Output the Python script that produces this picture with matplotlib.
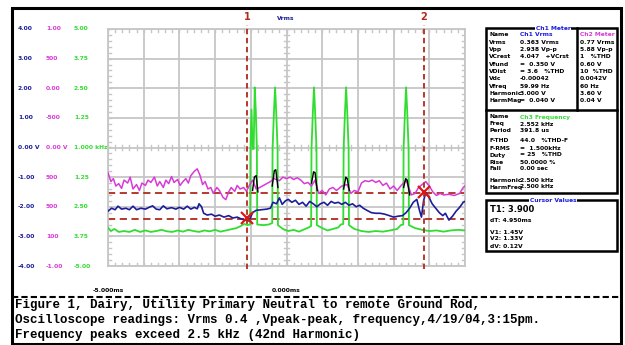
import numpy as np
import matplotlib
matplotlib.use("Agg")
import matplotlib.pyplot as plt
from matplotlib.patches import Rectangle

# ---------------- data (scope divisions: x 0..10, y -4..4) ----------------
magenta_t = [0.00, 0.08, 0.15, 0.22, 0.30, 0.38, 0.45, 0.55, 0.62, 0.70, 0.80, 0.88, 0.95,
             1.05, 1.12, 1.20, 1.30, 1.38, 1.45, 1.55, 1.62, 1.70, 1.78, 1.85, 1.95,
             2.02, 2.10, 2.18, 2.25, 2.32, 2.42, 2.50, 2.58, 2.65, 2.72, 2.80, 2.88, 2.95,
             3.05, 3.12, 3.22, 3.30, 3.38, 3.45, 3.55, 3.62, 3.70, 3.80, 3.88, 3.95,
             4.05, 4.15, 4.25, 4.40, 4.55, 4.65, 4.80, 4.90, 5.00, 5.10, 5.20, 5.30, 5.40,
             5.50, 5.60, 5.70, 5.80, 5.90, 6.00, 6.10, 6.20, 6.30, 6.40, 6.55, 6.70, 6.80,
             6.90, 7.00, 7.10, 7.20, 7.30, 7.40, 7.50, 7.60, 7.70, 7.80, 7.90, 8.00, 8.10,
             8.20, 8.35, 8.50, 8.60, 8.70, 8.80, 8.90, 9.00, 9.10, 9.20, 9.30, 9.40, 9.55,
             9.70, 9.85, 9.95, 10.0]
magenta_v = [-0.85, -1.15, -1.05, -1.30, -1.22, -1.38, -1.10, -1.20, -1.00, -1.40, -1.25, -1.45, -1.20,
             -1.28, -1.10, -1.18, -1.00, -1.30, -1.15, -1.35, -1.10, -1.22, -0.98, -1.18, -1.08,
             -1.28, -1.15, -1.05, -1.20, -0.95, -0.80, -0.72, -0.95, -1.25, -1.15, -1.40, -1.35, -1.55,
             -1.35, -1.45, -1.68, -1.76, -1.50, -1.35, -1.48, -1.28, -1.40, -1.35, -1.48, -1.30,
             -1.10, -1.40, -1.35, -1.25, -1.15, -1.05, -1.12, -1.00, -1.05, -1.00, -1.08, -1.02, -1.10,
             -1.22, -1.18, -1.30, -1.10, -1.55, -1.45, -1.60, -1.40, -1.35, -1.45, -1.30, -1.25, -1.55,
             -1.45, -1.50, -1.20, -1.12, -1.15, -1.10, -1.18, -1.12, -1.28, -1.20, -1.40, -1.30, -1.45,
             -1.30, -1.10, -1.60, -1.55, -1.35, -1.25, -1.15, -1.30, -1.50, -1.62, -1.55, -1.60, -1.58,
             -1.62, -1.55, -1.35, -1.30]

blue_t = [0.00, 0.10, 0.20, 0.28, 0.38, 0.50, 0.60, 0.70, 0.80, 0.92, 1.05, 1.15, 1.25, 1.35,
          1.45, 1.55, 1.65, 1.78, 1.90, 2.00, 2.12, 2.22, 2.32, 2.42, 2.50, 2.55, 2.62, 2.68,
          2.78, 2.90, 3.00, 3.12, 3.25, 3.38, 3.50, 3.62, 3.75, 3.85, 3.95, 4.05, 4.15, 4.30,
          4.45, 4.55, 4.62, 4.72, 4.80, 4.88, 4.97, 5.05, 5.15, 5.25, 5.35, 5.45, 5.55, 5.65,
          5.75, 5.85, 5.95, 6.05, 6.15, 6.25, 6.35, 6.45, 6.55, 6.65, 6.75, 6.85, 6.95, 7.05,
          7.15, 7.25, 7.38, 7.50, 7.62, 7.75, 7.88, 8.00, 8.12, 8.25, 8.35, 8.45, 8.55, 8.65,
          8.72, 8.78, 8.84, 8.90, 8.98, 9.08, 9.18, 9.28, 9.38, 9.45, 9.55, 9.65, 9.75, 9.85,
          9.95, 10.0]
blue_v = [-2.15, -2.05, -2.10, -1.98, -2.08, -2.05, -2.10, -1.98, -2.10, -2.05, -2.08, -2.02, -1.97, -2.08,
          -2.10, -1.97, -2.07, -2.03, -2.08, -2.02, -2.08, -1.98, -2.08, -2.02, -2.07, -1.90, -2.00, -2.22,
          -2.28, -2.25, -2.32, -2.28, -2.35, -2.30, -2.38, -2.35, -2.42, -2.45, -2.48, -2.20, -2.12, -2.10,
          -2.08, -2.05, -1.85, -1.90, -1.70, -1.92, -1.80, -1.75, -1.85, -1.78, -1.92, -1.85, -1.98, -1.82,
          -1.90, -2.00, -1.90, -1.85, -1.95, -1.82, -1.88, -1.85, -1.92, -1.85, -1.95, -1.90, -2.00, -1.95,
          -2.05, -2.12, -2.20, -2.22, -2.22, -2.25, -2.30, -2.35, -2.32, -2.30, -2.20, -2.05, -1.85, -1.75,
          -2.10, -2.35, -1.80, -1.52, -1.65, -1.90, -2.05, -2.20, -2.30, -2.22, -2.45, -2.32, -2.15, -2.02,
          -1.85, -1.82]

green_t = [0.00, 0.08, 0.18, 0.30, 0.45, 0.60, 0.75, 0.90, 1.05, 1.20, 1.35, 1.50, 1.65, 1.80,
           1.95, 2.10, 2.25, 2.40, 2.55, 2.70, 2.85, 3.00, 3.15, 3.30, 3.45, 3.60, 3.72, 3.82,
           3.90, 3.98, 3.99, 4.02, 4.05, 4.08, 4.11, 4.14, 4.17, 4.18,
           4.35, 4.50, 4.60, 4.61, 4.65, 4.68, 4.71, 4.75, 4.76,
           4.90, 5.05, 5.20, 5.35, 5.50, 5.62, 5.69, 5.70, 5.74, 5.77, 5.80, 5.84, 5.85,
           6.00, 6.15, 6.30, 6.45, 6.52, 6.59, 6.60, 6.64, 6.67, 6.70, 6.74, 6.75,
           6.90, 7.10, 7.30, 7.50, 7.70, 7.90, 8.10, 8.20, 8.27, 8.28, 8.32, 8.35, 8.38, 8.42, 8.43,
           8.60, 8.80, 9.00, 9.20, 9.40, 9.60, 9.80, 10.0]
green_v = [-2.70, -2.82, -2.75, -2.85, -2.82, -2.85, -2.78, -2.85, -2.80, -2.85, -2.82, -2.78, -2.83, -2.85,
           -2.80, -2.84, -2.78, -2.82, -2.85, -2.80, -2.83, -2.78, -2.84, -2.80, -2.76, -2.72, -2.65, -2.58,
           -2.62, -2.60, -0.05, 1.28, -0.05, -0.05, 2.03, 1.25, -0.05, -2.60,
           -2.62, -2.60, -2.55, -0.05, 1.25, 2.03, 1.25, -0.05, -2.62,
           -2.75, -2.82, -2.78, -2.84, -2.76, -2.70, -2.65, -0.05, 1.25, 2.03, 1.25, -0.05, -2.62,
           -2.72, -2.80, -2.75, -2.70, -2.60, -2.58, -0.05, 1.25, 2.03, 1.25, -0.05, -2.62,
           -2.75, -2.82, -2.85, -2.82, -2.84, -2.80, -2.75, -2.62, -2.60, -0.05, 1.25, 2.03, 1.25, -0.05, -2.62,
           -2.72, -2.78, -2.82, -2.80, -2.84, -2.80, -2.78, -2.80]

black_t = [4.05, 4.10, 4.15, 4.20, np.nan, 4.60, 4.66, 4.70, 4.76, np.nan,
           5.70, 5.76, 5.80, 5.86, np.nan, 6.60, 6.66, 6.70, 6.76, np.nan,
           8.28, 8.34, 8.38, 8.45]
black_v = [-1.45, -1.00, -0.95, -1.50, np.nan, -1.30, -0.78, -0.75, -1.35, np.nan,
           -1.20, -0.82, -0.85, -1.45, np.nan, -1.40, -1.00, -1.05, -1.45, np.nan,
           -1.35, -1.05, -1.10, -1.60]

cursor_t = [3.90, 8.85]
cursor_names = ["1", "2"]
cursor_marks_v = [-2.38, -1.50]
ref_levels = [-1.55, -2.40]

ch1_labels = ["4.00", "3.00", "2.00", "1.00", "0.00 V", "-1.00", "-2.00", "-3.00", "-4.00"]
ch2_labels = ["1.00", "500", "0.00", "-500", "0.00 V", "500", "500", "100", "-1.00"]
ch3_labels = ["5.00", "3.75", "2.50", "1.25", "1.000 kHz", "1.25", "2.50", "3.75", "-5.00"]

time_labels = ["-5.000ms", "0.000ms"]
top_label = "Vrms"

meter_rows = ["Name", "Vrms", "Vpp", "VCrest", "Vfund", "VDist", "Vdc", "Vfreq", "Harmonic", "HarmMag"]
meter_vals = ["Ch1 Vrms", "0.363 Vrms", "2.938 Vp-p", "4.047   +VCrst", "=  0.350 V", "= 3.6   %THD",
              "-0.00042", "59.99 Hz", "3.000 V", "=  0.040 V"]
meter2_vals = ["Ch2 Meter", "0.77 Vrms", "5.88 Vp-p", "1   %THD", "0.60 V", "10  %THD",
               "0.0042V", "60 Hz", "3.60 V", "0.04 V"]
freq_rows = ["Name", "Freq", "Period", "F-THD", "F-RMS", "Duty", "Rise", "Fall", "Harmonic", "HarmFreq"]
freq_vals = ["Ch3 Frequency", "2.552 kHz", "391.8 us", "44.0   %THD-F", "=  1.500kHz", "= 25   %THD",
             "50.0000 %", "0.00 sec", "2.500 kHz", "2.500 kHz"]
cursor_rows = ["T1: 3.900", "dT: 4.950ms", "V1: 1.45V", "V2: 1.33V", "dV: 0.12V"]

caption = ["Figure 1, Dairy, Utility Primary Neutral to remote Ground Rod,",
           "Oscilloscope readings: Vrms 0.4 ,Vpeak-peak, frequency,4/19/04,3:15pm.",
           "Frequency peaks exceed 2.5 kHz (42nd Harmonic)"]

# ---------------- styles ----------------
C_BLUE = "#1c1c9c"
C_MAG = "#d83ad8"
C_GRN = "#30dd30"
C_RED = "#b02a20"
C_GRID = "#c6c6c6"
SMALL = dict(family="DejaVu Sans", fontweight="bold", fontsize=4.3)

W, H = 625, 345
fig = plt.figure(figsize=(W / 100, H / 100), dpi=100)
fig.patch.set_facecolor("white")

ov = fig.add_axes([0, 0, 1, 1])
ov.set_xlim(0, W)
ov.set_ylim(H, 0)
ov.axis("off")

gx0, gx1, gy0, gy1 = 108, 465, 29, 266
ax = fig.add_axes([gx0 / W, 1 - gy1 / H, (gx1 - gx0) / W, (gy1 - gy0) / H])
ax.set_xlim(0, 10)
ax.set_ylim(-4, 4)
ax.set_xticks(range(11))
ax.set_yticks(range(-4, 5))
ax.tick_params(length=0, labelbottom=False, labelleft=False)
ax.grid(True, color=C_GRID, lw=1.3)
for s in ax.spines.values():
    s.set_color(C_GRID)
    s.set_linewidth(1.3)
ax.set_axisbelow(True)

# minor tick marks on centre lines and borders
mt = np.arange(0, 10.01, 0.2)
for x in mt:
    ax.plot([x, x], [-0.08, 0.08], color=C_GRID, lw=1.0, zorder=1)
    ax.plot([x, x], [4, 3.9], color=C_GRID, lw=1.0, zorder=1)
    ax.plot([x, x], [-4, -3.9], color=C_GRID, lw=1.0, zorder=1)
for y in np.arange(-4, 4.01, 0.2):
    ax.plot([4.92, 5.08], [y, y], color=C_GRID, lw=1.0, zorder=1)
    ax.plot([0, 0.08], [y, y], color=C_GRID, lw=1.0, zorder=1)
    ax.plot([10, 9.92], [y, y], color=C_GRID, lw=1.0, zorder=1)

# reference levels and cursors
for lv in ref_levels:
    ax.plot([0, 10], [lv, lv], color=C_RED, lw=1.3, dashes=(4, 2.5), zorder=2)
for ct, nm in zip(cursor_t, cursor_names):
    ax.plot([ct, ct], [-4.1, 4.15], color=C_RED, lw=1.3, dashes=(3, 2), zorder=5, clip_on=False)
    ax.text(ct, 4.25, nm, color=C_RED, ha="center", va="bottom", fontsize=7,
            fontweight="bold", clip_on=False)

# traces
ax.plot(green_t, green_v, color=C_GRN, lw=1.3, zorder=3)
ax.plot(magenta_t, magenta_v, color=C_MAG, lw=1.1, zorder=4)
ax.plot(blue_t, blue_v, color=C_BLUE, lw=1.2, zorder=4)
ax.plot(black_t, black_v, color="black", lw=1.0, zorder=4)
ax.plot(cursor_t, cursor_marks_v, ls="none", marker="x", ms=8, mew=1.6, color="#dd1515", zorder=6)

# outer frame and separator
ov.add_patch(Rectangle((12, 8), 609, 336, fill=False, ec="black", lw=2.2))
ov.plot([12, 621], [297, 297], color="black", lw=1.5, dashes=(3, 1.5))

# channel scale labels
for i in range(9):
    y = gy0 + i * (gy1 - gy0) / 8
    ov.text(18, y, ch1_labels[i], color=C_BLUE, va="center", ha="left", **SMALL)
    ov.text(46, y, ch2_labels[i], color=C_MAG, va="center", ha="left", **SMALL)
    ov.text(74, y, ch3_labels[i], color=C_GRN, va="center", ha="left", **SMALL)

ov.text(286, 18, top_label, color=C_BLUE, ha="center", va="center", **SMALL)
ov.text(108, 291, time_labels[0], color="black", ha="center", va="center", **SMALL)
ov.text(286, 291, time_labels[1], color="black", ha="center", va="center", **SMALL)

# meter box
ov.add_patch(Rectangle((486, 28), 131, 165, fill=False, ec="black", lw=1.8))
ov.plot([486, 617], [110, 110], color="black", lw=1.8)
ov.plot([577, 577], [28, 110], color="black", lw=1.8)
ov.text(553, 28, "Ch1 Meter", color="#1a1adf", ha="center", va="center",
        bbox=dict(fc="white", ec="none", pad=0.3), **SMALL)
for i in range(10):
    y = 35 + i * 7.3
    ov.text(489, y, meter_rows[i], color="black", ha="left", va="center", **SMALL)
    ov.text(520, y, meter_vals[i], color=("#1a1adf" if i == 0 else "black"),
            ha="left", va="center", **SMALL)
    ov.text(580, y, meter2_vals[i], color=(C_MAG if i == 0 else "black"),
            ha="left", va="center", **SMALL)
fy = [117, 124, 131, 141, 148, 155, 162, 169, 180, 187]
for i in range(10):
    ov.text(489, fy[i], freq_rows[i], color="black", ha="left", va="center", **SMALL)
    ov.text(520, fy[i], freq_vals[i], color=(C_GRN if i == 0 else "black"),
            ha="left", va="center", **SMALL)

# cursor box
ov.add_patch(Rectangle((486, 200), 131, 51, fill=False, ec="black", lw=1.8))
ov.text(553, 200, "Cursor Values", color="#1a1adf", ha="center", va="center",
        bbox=dict(fc="white", ec="none", pad=0.3), **SMALL)
cy = [210, 221, 232, 239, 246]
for i, s in enumerate(cursor_rows):
    ov.text(490, cy[i], s, color="black", ha="left", va="center",
            family="DejaVu Sans", fontweight="bold", fontsize=(6 if i == 0 else 4.3))

# caption
for i, line in enumerate(caption):
    ov.text(15, 305 + i * 15, line, color="black", ha="left", va="center",
            family="Liberation Mono", fontweight="bold", fontsize=9)

fig.savefig("out.png", dpi=100, facecolor="white")
